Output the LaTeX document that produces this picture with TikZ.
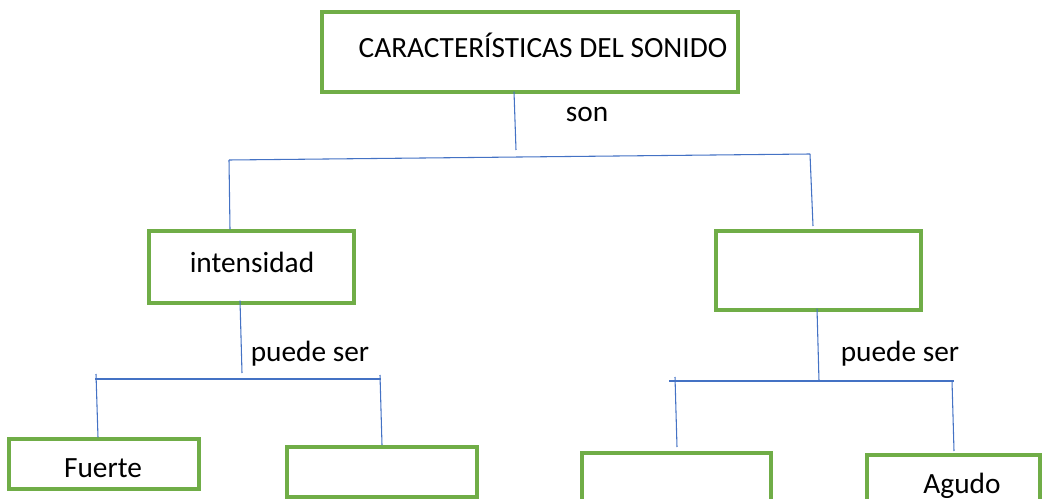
\documentclass[tikz,border=0pt]{standalone}
\usepackage{fontspec}
\setmainfont{Carlito}
\usetikzlibrary{fit}
\definecolor{boxgreen}{HTML}{70AD47}
\definecolor{lineblue}{HTML}{4472C4}
\tikzset{
  box/.style={draw=boxgreen, line width=2.3pt, inner sep=0pt, fill=none},
  conn/.style={draw=lineblue, line width=0.8pt},
  txt/.style={font=\fontsize{22}{26}\selectfont, inner sep=0pt, text=black}
}
\begin{document}
\begin{tikzpicture}[x=0.75pt,y=-0.75pt]
\useasboundingbox (0,0) rectangle (1042,499);
\clip (0,0) rectangle (1042,499);
% boxes
\node[box, fit={(322,12) (738,92)}] (top) {};
\node[box, fit={(149,231) (354,303)}] (int) {};
\node[box, fit={(716,231) (921,310)}] (right) {};
\node[box, fit={(9,439) (199,489)}] (fuerte) {};
\node[box, fit={(287,447) (477,497)}] (b2) {};
\node[box, fit={(582,453) (771,520)}] (b3) {};
\node[box, fit={(867,455) (1040,520)}] (agudo) {};
% texts
\node[txt] (ttop) at (543,45) {CARACTERÍSTICAS DEL SONIDO};
\node[txt] (tint) at (252,262) {intensidad};
\node[txt] (tfuerte) at (103,468) {Fuerte};
\node[txt] (tagudo) at (962,486) {Agudo};
\node[txt] (son) at (587,114) {son};
\node[txt] (ps1) at (310,354) {puede ser};
\node[txt] (ps2) at (900,354) {puede ser};
% junction coordinates
\coordinate (j0) at (516,150);
\coordinate (h0l) at (229,160);
\coordinate (h0r) at (810,154);
\coordinate (j1) at (242,373);
\coordinate (h1l) at (95,379);
\coordinate (h1r) at (381,379);
\coordinate (j2) at (819,381);
\coordinate (h2l) at (669,381);
\coordinate (h2r) at (954,381);
% connectors
\draw[conn] (top.south -| 514,0) ++(0,-2) -- (j0);
\draw[conn] (h0l) -- (h0r);
\draw[conn] (h0l) -- (int.north -| 230,0);
\draw[conn] (h0r) -- (813,226);
\draw[conn] (int.south -| 240,0) ++(0,-4) -- (j1);
\draw[conn] (h1l) -- (h1r);
\draw[conn] (96,374) -- (fuerte.north -| 98,0);
\draw[conn] (380,375) -- (382,445);
\draw[conn] (right.south -| 817,0) ++(0,-3) -- (j2);
\draw[conn] (h2l) -- (h2r);
\draw[conn] (675,377) -- (677,447);
\draw[conn] (952,381) -- (954,451);
\end{tikzpicture}
\end{document}
